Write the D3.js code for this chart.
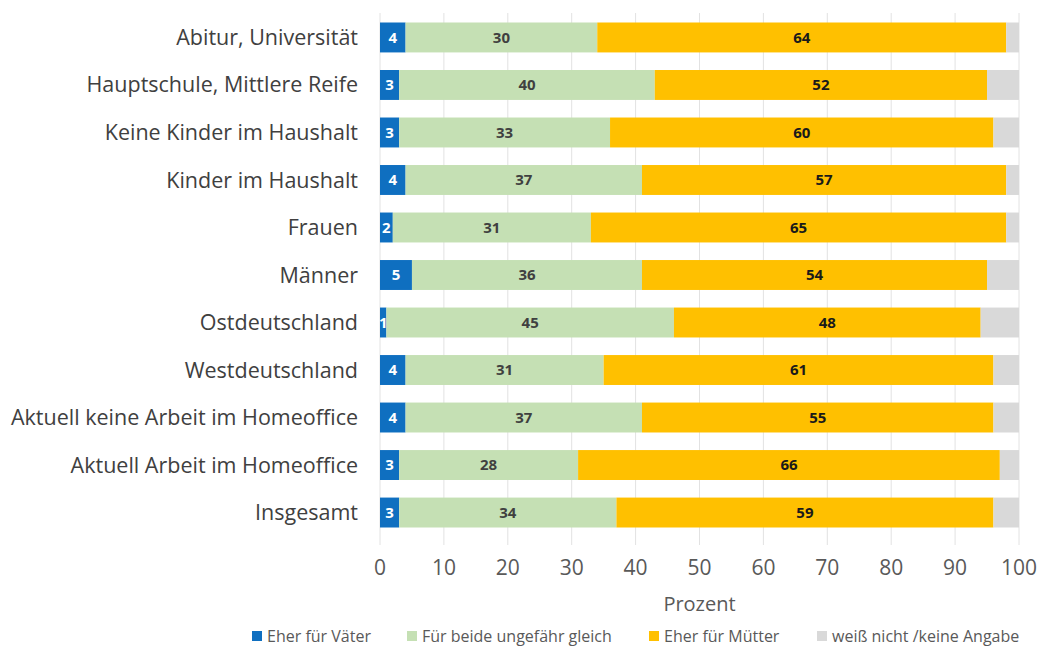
<!DOCTYPE html>
<html>
<head>
<meta charset="utf-8">
<script src="https://cdn.jsdelivr.net/npm/d3@7"></script>
<style>
body { margin: 0; background: #fff; }
text { font-family: "Open Sans", sans-serif; }
</style>
</head>
<body>
<div id="chart"></div>
<script>
var categories = ["Abitur, Universität", "Hauptschule, Mittlere Reife", "Keine Kinder im Haushalt",
  "Kinder im Haushalt", "Frauen", "Männer", "Ostdeutschland", "Westdeutschland",
  "Aktuell keine Arbeit im Homeoffice", "Aktuell Arbeit im Homeoffice", "Insgesamt"];
var vaeter  = [4, 3, 3, 4, 2, 5, 1, 4, 4, 3, 3];
var beide   = [30, 40, 33, 37, 31, 36, 45, 31, 37, 28, 34];
var muetter = [64, 52, 60, 57, 65, 54, 48, 61, 55, 66, 59];
var weissNicht = [2, 5, 4, 2, 2, 5, 6, 4, 4, 3, 4];
var seriesNames = ["Eher für Väter", "Für beide ungefähr gleich", "Eher für Mütter", "weiß nicht /keine Angabe"];
var xTicks = [0, 10, 20, 30, 40, 50, 60, 70, 80, 90, 100];

var colors = ["#0f6fc0", "#c5e0b4", "#ffc000", "#d9d9d9"];
var labelColors = ["#ffffff", "#404040", "#1a1a1a", null];

var width = 1040, height = 648;
var margin = {left: 380, right: 21, top: 13, bottom: 111};

var svg = d3.select("#chart").append("svg")
  .attr("width", width)
  .attr("height", height);

var rows = categories.map(function(c, i) {
  return {cat: c, vals: [vaeter[i], beide[i], muetter[i], weissNicht[i]]};
});

var x = d3.scaleLinear().domain([0, 100]).range([margin.left, width - margin.right]);
var y = d3.scaleBand().domain(categories).range([margin.top, height - margin.bottom]).paddingInner(0.37).paddingOuter(0.2);

// gridlines
svg.append("g").selectAll("line")
  .data(xTicks)
  .enter().append("line")
  .attr("x1", function(d) { return x(d); })
  .attr("x2", function(d) { return x(d); })
  .attr("y1", margin.top)
  .attr("y2", height - margin.bottom + 8)
  .attr("stroke", "#e2e2e2")
  .attr("stroke-width", 1);

var stack = d3.stack().keys([0, 1, 2, 3]).value(function(d, k) { return d.vals[k]; });
var layers = stack(rows);

var g = svg.append("g");
layers.forEach(function(layer, k) {
  g.selectAll(".seg" + k)
    .data(layer)
    .enter().append("rect")
    .attr("x", function(d) { return x(d[0]); })
    .attr("y", function(d) { return y(d.data.cat); })
    .attr("width", function(d) { return x(d[1]) - x(d[0]); })
    .attr("height", y.bandwidth())
    .attr("fill", colors[k]);
  if (labelColors[k]) {
    g.selectAll(".lab" + k)
      .data(layer)
      .enter().append("text")
      .attr("x", function(d) { return (x(d[0]) + x(d[1])) / 2; })
      .attr("y", function(d) { return y(d.data.cat) + y.bandwidth() / 2; })
      .attr("dy", "0.35em")
      .attr("text-anchor", "middle")
      .attr("font-size", 15)
      .attr("font-weight", "bold")
      .attr("fill", labelColors[k])
      .text(function(d) { return d.data.vals[k]; });
  }
});

// category labels
svg.append("g").selectAll("text")
  .data(categories)
  .enter().append("text")
  .attr("x", margin.left - 22)
  .attr("y", function(d) { return y(d) + y.bandwidth() / 2; })
  .attr("dy", "0.35em")
  .attr("text-anchor", "end")
  .attr("font-size", 21.5)
  .attr("fill", "#404040")
  .text(function(d) { return d; });

// x tick labels
svg.append("g").selectAll("text")
  .data(xTicks)
  .enter().append("text")
  .attr("x", function(d) { return x(d); })
  .attr("y", 575)
  .attr("text-anchor", "middle")
  .attr("font-size", 21)
  .attr("fill", "#595959")
  .text(function(d) { return d; });

svg.append("text")
  .attr("x", x(50))
  .attr("y", 611)
  .attr("text-anchor", "middle")
  .attr("font-size", 20)
  .attr("fill", "#595959")
  .text("Prozent");

// legend
var legX = [252, 407, 649, 817];
var leg = svg.append("g").selectAll("g")
  .data(seriesNames)
  .enter().append("g")
  .attr("transform", function(d, i) { return "translate(" + legX[i] + ",636)"; });
leg.append("rect")
  .attr("x", 0).attr("y", -5)
  .attr("width", 10).attr("height", 10)
  .attr("fill", function(d, i) { return colors[i]; });
leg.append("text")
  .attr("x", 15)
  .attr("y", 0)
  .attr("dy", "0.35em")
  .attr("font-size", 16)
  .attr("fill", "#595959")
  .text(function(d) { return d; });
</script>
</body>
</html>
